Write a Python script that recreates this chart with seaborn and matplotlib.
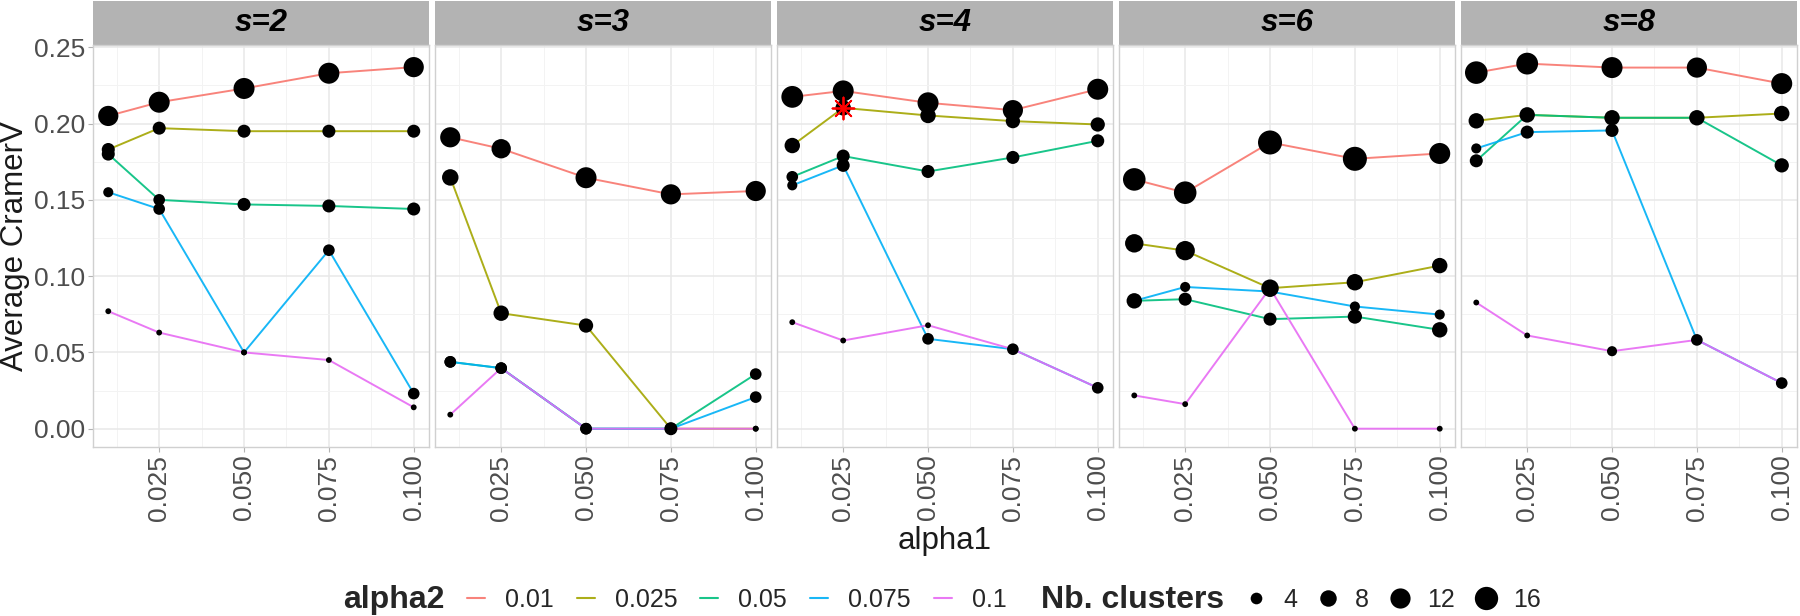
import matplotlib
matplotlib.use('Agg')
import matplotlib.pyplot as plt
from matplotlib.lines import Line2D
from matplotlib.patches import Rectangle
import seaborn as sns
import numpy as np
import pandas as pd

alpha1 = [0.01, 0.025, 0.05, 0.075, 0.1]
alpha2_levels = ['0.01', '0.025', '0.05', '0.075', '0.1']
s_values = [2, 3, 4, 6, 8]
hue_colors = ['#F8766D', '#A3A500', '#00BF7D', '#00B0F6', '#E76BF3']

# one row per alpha2 level, one column per alpha1 value
cramer_s2 = [[0.205, 0.214, 0.223, 0.233, 0.237],
             [0.183, 0.197, 0.195, 0.195, 0.195],
             [0.180, 0.150, 0.147, 0.146, 0.144],
             [0.155, 0.144, 0.050, 0.117, 0.023],
             [0.077, 0.063, 0.050, 0.045, 0.014]]
clusters_s2 = [[12, 13, 13, 13, 12],
               [5, 5, 5, 5, 5],
               [5, 4, 5, 5, 5],
               [3, 4, 1, 4, 4],
               [1, 1, 1, 1, 1]]

cramer_s3 = [[0.191, 0.1835, 0.1645, 0.1536, 0.1558],
             [0.1647, 0.0757, 0.0676, 0.0, 0.0],
             [0.0438, 0.0397, 0.0, 0.0, 0.0358],
             [0.0438, 0.0397, 0.0, 0.0, 0.0207],
             [0.0092, 0.0397, 0.0, 0.0, 0.0]]
clusters_s3 = [[12, 11, 13, 12, 12],
               [8, 7, 6, 5, 1],
               [4, 4, 4, 4, 4],
               [4, 4, 4, 4, 4],
               [1, 1, 1, 1, 1]]

cramer_s4 = [[0.2175, 0.2214, 0.2136, 0.2088, 0.2225],
             [0.1856, 0.2103, 0.2053, 0.2016, 0.1994],
             [0.1651, 0.1787, 0.1686, 0.1778, 0.1887],
             [0.1595, 0.1726, 0.0589, 0.0521, 0.0268],
             [0.0698, 0.0578, 0.0678, 0.0521, 0.0268]]
clusters_s4 = [[14, 13, 13, 12, 13],
               [7, 7, 7, 6, 6],
               [4, 5, 5, 5, 5],
               [3, 5, 4, 4, 4],
               [1, 1, 1, 1, 1]]

cramer_s6 = [[0.1634, 0.1547, 0.1876, 0.1769, 0.1804],
             [0.1215, 0.1167, 0.0921, 0.0960, 0.1069],
             [0.0838, 0.0849, 0.0718, 0.0735, 0.0648],
             [0.0838, 0.0929, 0.0899, 0.0801, 0.0748],
             [0.0218, 0.0161, 0.0921, 0.0, 0.0]]
clusters_s6 = [[15, 15, 17, 17, 13],
               [10, 11, 9, 8, 7],
               [7, 5, 5, 6, 7],
               [3, 3, 3, 3, 3],
               [1, 1, 1, 1, 1]]

cramer_s8 = [[0.2334, 0.2393, 0.2367, 0.2367, 0.2262],
             [0.2018, 0.2057, 0.2038, 0.2038, 0.2066],
             [0.1756, 0.2057, 0.2038, 0.2038, 0.1726],
             [0.1837, 0.1944, 0.1955, 0.0582, 0.0299],
             [0.0827, 0.0611, 0.0508, 0.0582, 0.0299]]
clusters_s8 = [[15, 14, 13, 12, 13],
               [7, 7, 7, 7, 7],
               [5, 5, 5, 5, 6],
               [3, 5, 5, 4, 4],
               [1, 1, 3, 3, 3]]

size_breaks = [4, 8, 12, 16]
y_ticks = [0.0, 0.05, 0.10, 0.15, 0.20, 0.25]
x_ticks = [0.025, 0.050, 0.075, 0.100]

# the selected configuration marked with a red star
star_s, star_alpha1, star_alpha2 = 4, 0.025, '0.025'

cramer_all = [cramer_s2, cramer_s3, cramer_s4, cramer_s6, cramer_s8]
clusters_all = [clusters_s2, clusters_s3, clusters_s4, clusters_s6, clusters_s8]

rows = []
for s, vals, ns in zip(s_values, cramer_all, clusters_all):
    for lvl, v_row, n_row in zip(alpha2_levels, vals, ns):
        for a1, v, n in zip(alpha1, v_row, n_row):
            rows.append(dict(s=s, alpha1=a1, alpha2=lvl, cramer=v, clusters=n))
df = pd.DataFrame(rows)

sns.set_theme(style='white')
plt.rcParams['font.family'] = ['Liberation Sans', 'DejaVu Sans']

W, H = 1800, 616
K = 17.6  # point area (pt^2) per cluster
tick_fs = 19
title_fs = 22.5
strip_fs = 22.5
legend_title_fs = 23
legend_fs = 18

fig = plt.figure(figsize=(W / 100, H / 100), dpi=100)
fig.patch.set_facecolor('white')

for i, s in enumerate(s_values):
    ax = fig.add_axes([(93 + i * 342) / W, 169 / H, 336 / W, 402 / H])
    sub = df[df['s'] == s]
    sns.lineplot(data=sub, x='alpha1', y='cramer', hue='alpha2',
                 hue_order=alpha2_levels, palette=hue_colors, lw=1.4,
                 alpha=0.9, estimator=None, sort=False, legend=False,
                 ax=ax, zorder=2)
    sns.scatterplot(data=sub, x='alpha1', y='cramer', size='clusters',
                    sizes=(K * 1, K * 17), size_norm=(1, 17), color='black',
                    linewidth=0, legend=False, ax=ax, zorder=3)
    if s == star_s:
        hit = sub[(sub['alpha1'] == star_alpha1) & (sub['alpha2'] == star_alpha2)]
        ax.scatter(hit['alpha1'], hit['cramer'], marker=(8, 2, 0), s=250,
                   color='red', linewidths=1.3, zorder=4)

    ax.set_xlim(0.0055, 0.1045)
    ax.set_ylim(-0.012, 0.2515)
    ax.set_xticks(x_ticks)
    ax.set_xticks([0.0125, 0.0375, 0.0625, 0.0875], minor=True)
    ax.set_yticks(y_ticks)
    ax.set_yticks([0.025, 0.075, 0.125, 0.175, 0.225], minor=True)
    ax.grid(which='major', color='#E8E8E8', lw=1.1)
    ax.grid(which='minor', color='#F3F3F3', lw=0.7)
    ax.set_axisbelow(True)
    for sp in ax.spines.values():
        sp.set_color('#D0D0D0')
        sp.set_linewidth(1.0)
    ax.tick_params(axis='x', which='major', bottom=True, length=3.5, width=0.8,
                   color='#B3B3B3', labelsize=tick_fs, labelcolor='#4D4D4D',
                   labelrotation=90, pad=2)
    ax.tick_params(which='minor', length=0)
    ax.set_xticklabels([f'{t:.3f}' for t in x_ticks])
    if i == 0:
        ax.tick_params(axis='y', which='major', left=True, length=3.5, width=0.8,
                       color='#B3B3B3', labelsize=tick_fs, labelcolor='#4D4D4D',
                       pad=2)
        ax.set_yticklabels([f'{t:.2f}' for t in y_ticks])
    else:
        ax.tick_params(axis='y', left=False, labelleft=False)
    ax.set_xlabel('')
    ax.set_ylabel('')

    ax.add_patch(Rectangle((0, 1), 1, 44 / 402, transform=ax.transAxes,
                           facecolor='#B3B3B3', edgecolor='none', clip_on=False))
    ax.text(0.5, 1 + 22 / 402, f's={s}', transform=ax.transAxes,
            ha='center', va='center', fontsize=strip_fs,
            fontweight='bold', fontstyle='italic', color='black')

fig.text(15 / W, 1 - 246 / H, 'Average CramerV', rotation=90,
         ha='center', va='center', fontsize=title_fs, color='#1A1A1A')
fig.text(945 / W, 1 - 541 / H, 'alpha1', ha='center', va='center',
         fontsize=title_fs, color='#1A1A1A')

# legends along the bottom
leg_y = 1 - 600 / H
fig.text(343 / W, leg_y, 'alpha2', fontweight='bold',
         fontsize=legend_title_fs, va='center')
line_handles = [Line2D([], [], color=c, lw=1.5, alpha=0.9) for c in hue_colors]
px = legend_fs * 100 / 72
fig.legend(line_handles, alpha2_levels, loc='center left',
           bbox_to_anchor=(467 / W, leg_y), ncol=5, frameon=False,
           fontsize=legend_fs, handlelength=18 / px, handletextpad=20 / px,
           columnspacing=23 / px, borderpad=0, borderaxespad=0)

fig.text(1041 / W, leg_y, 'Nb. clusters', fontweight='bold',
         fontsize=legend_title_fs, va='center')
size_handles = [Line2D([], [], marker='o', ls='', color='black',
                       markeredgewidth=0, markersize=np.sqrt(K * n))
                for n in size_breaks]
fig.legend(size_handles, [str(n) for n in size_breaks], loc='center left',
           bbox_to_anchor=(1244 / W, leg_y), ncol=4, frameon=False,
           fontsize=legend_fs, handlelength=24 / px, handletextpad=15 / px,
           columnspacing=19 / px, borderpad=0, borderaxespad=0)

fig.savefig('out.png', dpi=100, facecolor='white')
